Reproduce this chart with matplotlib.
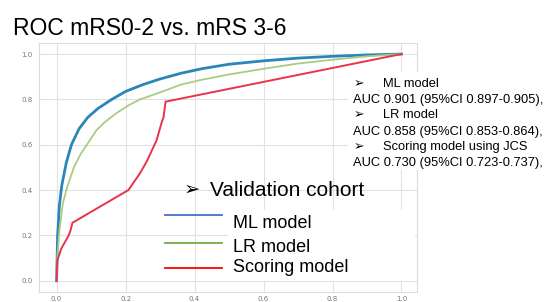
import matplotlib.pyplot as plt
from matplotlib.lines import Line2D
from matplotlib.patches import Rectangle

W, H = 547, 302

# ROC curves
ml_fpr = [0, 0.003, 0.008, 0.015, 0.028, 0.043, 0.065, 0.09, 0.12, 0.16, 0.2, 0.25,
          0.3, 0.36, 0.42, 0.5, 0.6, 0.7, 0.8, 0.9, 1.0]
ml_tpr = [0, 0.2, 0.33, 0.42, 0.52, 0.6, 0.67, 0.72, 0.76, 0.8, 0.835, 0.865,
          0.89, 0.915, 0.935, 0.955, 0.97, 0.982, 0.99, 0.996, 1.0]

lr_fpr = [0, 0.002, 0.008, 0.018, 0.03, 0.05, 0.07, 0.09, 0.116, 0.14, 0.174, 0.21,
          0.242, 0.28, 0.32, 0.36, 0.416, 0.5, 0.6, 0.7, 0.8, 0.9, 1.0]
lr_tpr = [0, 0.1, 0.22, 0.34, 0.41, 0.5, 0.56, 0.605, 0.665, 0.7, 0.74, 0.775,
          0.8, 0.82, 0.842, 0.865, 0.885, 0.91, 0.935, 0.958, 0.975, 0.99, 1.0]

sc_fpr = [0, 0.002, 0.014, 0.035, 0.04, 0.046, 0.208, 0.24, 0.261, 0.29, 0.305,
          0.31, 0.316, 1.0]
sc_tpr = [0, 0.09, 0.143, 0.2, 0.22, 0.256, 0.40, 0.47, 0.525, 0.62, 0.7,
          0.72, 0.79, 1.0]

ticks = [0.0, 0.2, 0.4, 0.6, 0.8, 1.0]
title = "ROC mRS0-2 vs. mRS 3-6"
auc_lines = [
    ("ML model", "AUC 0.901 (95%CI 0.897-0.905),"),
    ("LR model", "AUC 0.858 (95%CI 0.853-0.864),"),
    ("Scoring model using JCS", "AUC 0.730 (95%CI 0.723-0.737),"),
]
legend_labels = ["ML model", "LR model", "Scoring model"]
legend_colors = ["#4472c4", "#70ad47", "#ff0000"]

FONT = ["Liberation Sans", "DejaVu Sans"]


def fx(px):
    return px / W


def fy(py):
    return 1 - py / H


fig = plt.figure(figsize=(W / 100, H / 100), dpi=100)
ax = fig.add_axes([fx(39), fy(291.7), fx(417) - fx(39), fy(42.7) - fy(291.7)])

ax.plot(ml_fpr, ml_tpr, color="#2a86b8", lw=2.0, zorder=3)
ax.plot(lr_fpr, lr_tpr, color="#a9cc84", lw=1.3, zorder=3)
ax.plot(sc_fpr, sc_tpr, color="#e8344a", lw=1.4, zorder=4)

ax.set_xlim(-0.051, 1.045)
ax.set_ylim(-0.048, 1.05)
ax.set_xticks(ticks)
ax.set_yticks(ticks)
ax.set_xticklabels([f"{t:.1f}" for t in ticks])
ax.set_yticklabels([f"{t:.1f}" for t in ticks])
ax.tick_params(length=0, labelsize=5, labelcolor="#777777")
ax.tick_params(axis="y", pad=4.5)
ax.tick_params(axis="x", pad=3)
ax.grid(True, color="#e2e2e2", lw=0.8)
ax.set_axisbelow(True)
for s in ax.spines.values():
    s.set_color("#dddddd")
    s.set_linewidth(0.8)

# title
fig.text(fx(13), fy(35), title, fontsize=16.5, family=FONT, va="baseline")

# white box with AUC values
fig.add_artist(Rectangle((fx(348), fy(170)), fx(547) - fx(348), fy(72) - fy(170),
                         transform=fig.transFigure, facecolor="white", edgecolor="none"))
y = 84
for name, auc in auc_lines:
    fig.text(fx(354), fy(y), "\u27a2", fontsize=9, family=FONT, va="center")
    fig.text(fx(383), fy(y), name, fontsize=9.3, family=FONT, va="center")
    fig.text(fx(353), fy(y + 16), auc, fontsize=9.3, family=FONT, va="center")
    y += 31.5

# legend
fig.text(fx(184), fy(190), "\u27a2", fontsize=14, family=FONT, va="center")
fig.text(fx(210), fy(190), "Validation cohort", fontsize=15, family=FONT, va="center")
fig.add_artist(Rectangle((fx(228), fy(281)), fx(415) - fx(228), fy(210) - fy(281),
                         transform=fig.transFigure, facecolor="white", edgecolor="none"))
line_y = [215, 243.3, 267.7]
text_y = [224, 247.5, 268]
for lab, col, ly, ty in zip(legend_labels, legend_colors, line_y, text_y):
    fig.add_artist(Line2D([fx(165), fx(222)], [fy(ly), fy(ly)], color=col, lw=1.3,
                          transform=fig.transFigure))
    fig.text(fx(233), fy(ty), lab, fontsize=13, family=FONT, va="center")

fig.savefig("out.png", dpi=100)
